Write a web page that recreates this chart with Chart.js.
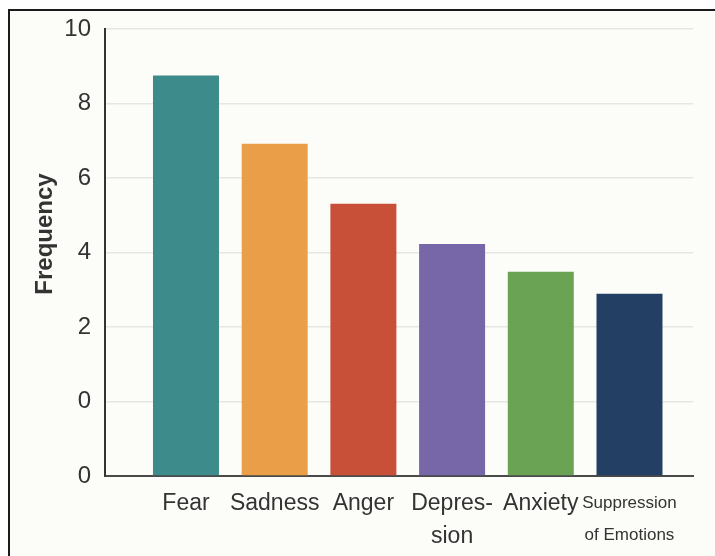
<!DOCTYPE html>
<html>
<head>
<meta charset="utf-8">
<script src="https://cdn.jsdelivr.net/npm/chart.js@4"></script>
<style>
  html, body { margin: 0; padding: 0; background: #ffffff; overflow: hidden; }
  body { width: 715px; height: 556px; position: relative; }
  #frame {
    position: absolute; left: 8px; top: 9px; width: 800px; height: 600px;
    border-left: 2px solid #1b1b1b; border-top: 2px solid #1b1b1b;
    background: #fcfcf8;
  }
  #wrap { position: absolute; left: 0; top: 0; width: 715px; height: 556px; }
</style>
</head>
<body>
<div id="frame"></div>
<div id="wrap"><canvas id="chart"></canvas></div>
<script>
// Emotion categories, wrapped onto the lines shown under each bar
const categories = [
  ['Fear'],
  ['Sadness'],
  ['Anger'],
  ['Depres-', 'sion'],
  ['Anxiety'],
  ['Suppression', 'of Emotions']
];

// Frequency reported for each emotion
const frequencies = [8.75, 6.92, 5.31, 4.23, 3.48, 2.89];

// Value-axis tick values and the text printed beside them
const yTickValues = [-2, 0, 2, 4, 6, 8, 10];
const yTickLabels = ['0', '0', '2', '4', '6', '8', '10'];

const barColors = ['#3d8b8a', '#eb9e48', '#c95038', '#7766a8', '#6aa353', '#233f64'];

const textColor = '#333333';
const baseFont = "'Liberation Sans', Arial, Helvetica, sans-serif";

// Rotated value-axis caption
const yCaption = {
  id: 'yCaption',
  afterDraw(chart) {
    const ctx = chart.ctx;
    ctx.save();
    ctx.translate(45, 234);
    ctx.rotate(-Math.PI / 2);
    ctx.font = "bold 24px " + baseFont;
    ctx.fillStyle = textColor;
    ctx.textAlign = 'center';
    ctx.textBaseline = 'middle';
    ctx.fillText('Frequency', 0, 0);
    ctx.restore();
  }
};

new Chart(document.getElementById('chart'), {
  type: 'bar',
  data: {
    datasets: [{
      label: 'Frequency',
      data: frequencies.map((v, i) => ({ x: i, y: v })),
      base: yTickValues[0],
      backgroundColor: barColors,
      borderWidth: 0,
      categoryPercentage: 1,
      barPercentage: 0.744
    }]
  },
  options: {
    responsive: true,
    maintainAspectRatio: false,
    animation: false,
    layout: { padding: { left: 0, top: 29, right: 22, bottom: 0 } },
    plugins: {
      legend: { display: false },
      tooltip: { enabled: false }
    },
    scales: {
      x: {
        type: 'linear',
        min: -0.913,
        max: 5.716,
        offset: false,
        afterFit(scale) { scale.height = 80; },
        afterBuildTicks(scale) { scale.ticks = categories.map((c, i) => ({ value: i })); },
        grid: { display: false, drawTicks: false, offset: false },
        border: { display: true, color: '#4a4a4a', width: 2 },
        ticks: {
          autoSkip: false,
          maxRotation: 0,
          minRotation: 0,
          padding: 12,
          color: textColor,
          font: (ctx) => (ctx.tick && ctx.tick.value === 5)
            ? { family: baseFont, size: 17, lineHeight: 1.85 }
            : { family: baseFont, size: 23, lineHeight: 1.4 },
          callback: (v) => categories[v] || ''
        }
      },
      y: {
        min: yTickValues[0],
        max: yTickValues[yTickValues.length - 1],
        afterFit(scale) { scale.width = 105; },
        afterBuildTicks(scale) { scale.ticks = yTickValues.map(v => ({ value: v })); },
        grid: {
          drawTicks: false,
          lineWidth: 1.5,
          color: (ctx) => ctx.tick && ctx.tick.value === yTickValues[0] ? 'rgba(0,0,0,0)' : '#e6e6e2'
        },
        border: { display: true, color: '#333333', width: 2 },
        ticks: {
          padding: 14,
          color: textColor,
          font: { family: baseFont, size: 24 },
          callback: (v) => yTickLabels[yTickValues.indexOf(v)]
        }
      }
    }
  },
  plugins: [yCaption]
});
</script>
</body>
</html>
